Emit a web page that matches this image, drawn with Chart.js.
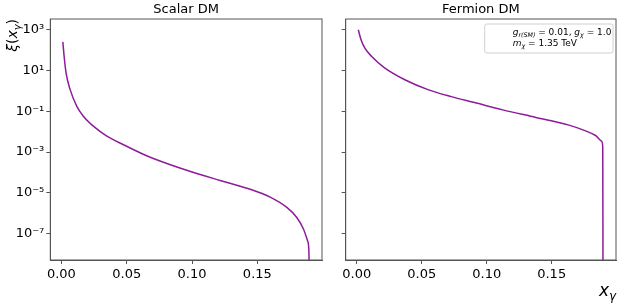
<!DOCTYPE html>
<html>
<head>
<meta charset="utf-8">
<script src="https://cdn.jsdelivr.net/npm/chart.js@4/dist/chart.umd.min.js"></script>
<style>
  body { margin: 0; background: #fff; }
  #wrap { position: relative; width: 623px; height: 304px; }
  canvas { position: absolute; top: 0; }
</style>
</head>
<body>
<div id="wrap">
  <canvas id="left" width="330" height="304" style="left:0"></canvas>
  <canvas id="right" width="293" height="304" style="left:330px"></canvas>
</div>
<script>
// values
const xScalar = [0.0011, 0.0021, 0.0036, 0.0067, 0.0118, 0.0168, 0.0245, 0.0348, 0.0475, 0.0626,
  0.0704, 0.096, 0.1215, 0.1368, 0.1445, 0.1598, 0.1726, 0.1802, 0.1853, 0.1884, 0.1894, 0.1898];
const yScalar = [2.5e2, 4.8e1, 7.4, 1.15, 1.74e-1, 5.75e-2, 1.86e-2, 6.0e-3, 2.3e-3, 7.9e-4,
  4.9e-4, 1.29e-4, 4.1e-5, 2.14e-5, 1.51e-5, 6.2e-6, 1.95e-6, 6.3e-7, 1.7e-7, 4.6e-8, 1.8e-8, 1e-9];

const xFermion = [0.0012, 0.0033, 0.0064, 0.0115, 0.0217, 0.037, 0.0548, 0.0727, 0.0906, 0.1123,
  0.1378, 0.1633, 0.1761, 0.1838, 0.1884, 0.1893, 0.1895];
const yFermion = [9.8e2, 3.2e2, 1.2e2, 4.8e1, 1.3e1, 3.5, 1.15, 5.2e-1, 2.66e-1, 1.17e-1,
  5.0e-2, 2.1e-2, 1.1e-2, 6.5e-3, 3.5e-3, 1.8e-3, 1e-9];

const xTicks = [0, 0.05, 0.1, 0.15];
const xTickLabels = ['0.00', '0.05', '0.10', '0.15'];
const yTicks = [1e-7, 1e-5, 1e-3, 1e-1, 1e1, 1e3];
const yTickLabels = ['10⁻⁷', '10⁻⁵', '10⁻³', '10⁻¹', '10¹', '10³'];

const titles = ['Scalar DM', 'Fermion DM'];
const lineColor = '#8c1c99';
const spineColor = '#555';
const FONT = "'DejaVu Sans', sans-serif";

Chart.defaults.color = '#000';
Chart.defaults.font.family = FONT;
Chart.defaults.font.size = 13;

function pts(xs, ys) {
  return xs.map((x, i) => ({ x: x, y: ys[i] }));
}

// draws text pieces with italic parts and subscripts
function drawRich(ctx, parts, x, y, size, align) {
  const fontFor = (p) => (p.italic ? 'italic ' : '') + (p.sub ? size * 0.7 : size) + 'px ' + FONT;
  let total = 0;
  parts.forEach(p => { ctx.font = fontFor(p); total += ctx.measureText(p.t).width; });
  let cx = align === 'right' ? x - total : (align === 'center' ? x - total / 2 : x);
  ctx.textAlign = 'left';
  ctx.textBaseline = 'alphabetic';
  parts.forEach(p => {
    ctx.font = fontFor(p);
    ctx.fillText(p.t, cx, p.sub ? y + size * 0.25 : y);
    cx += ctx.measureText(p.t).width;
  });
}

const frame = {
  id: 'frame',
  afterDraw(chart, args, opts) {
    const a = chart.chartArea;
    const ctx = chart.ctx;
    ctx.save();
    ctx.strokeStyle = spineColor;
    ctx.lineWidth = 1;
    ctx.strokeRect(a.left, a.top, a.right - a.left, a.bottom - a.top);
    ctx.fillStyle = '#000';
    if (opts.side === 'left') {
      ctx.translate(12, 19);
      ctx.rotate(-Math.PI / 2);
      drawRich(ctx, [
        { t: 'ξ', italic: true }, { t: '(' }, { t: 'x', italic: true },
        { t: 'γ', italic: true, sub: true }, { t: ')' }
      ], 0, 5, 14, 'right');
    } else {
      drawRich(ctx, [{ t: 'x', italic: true }, { t: 'γ', italic: true, sub: true }], a.right, 296, 17, 'right');
      // legend box
      const bx = a.left + 139, by = 24, bw = a.right - 3 - bx, bh = 29;
      ctx.fillStyle = 'rgba(255,255,255,0.8)';
      ctx.strokeStyle = '#d0d0d0';
      ctx.beginPath();
      ctx.roundRect(bx, by, bw, bh, 2);
      ctx.fill();
      ctx.stroke();
      ctx.fillStyle = '#000';
      drawRich(ctx, [
        { t: 'g', italic: true }, { t: 'r(SM)', italic: true, sub: true }, { t: ' = 0.01, ' },
        { t: 'g', italic: true }, { t: 'χ', italic: true, sub: true }, { t: ' = 1.0' }
      ], bx + 28, by + 11, 9, 'left');
      drawRich(ctx, [
        { t: 'm', italic: true }, { t: 'χ', italic: true, sub: true }, { t: ' = 1.35 TeV' }
      ], bx + 28, by + 22, 9, 'left');
    }
    ctx.restore();
  }
};

function makeChart(id, idx, xs, ys, yAxisWidth, rightPad) {
  const showY = idx === 0;
  return new Chart(document.getElementById(id), {
    type: 'line',
    data: {
      datasets: [{
        data: pts(xs, ys),
        borderColor: lineColor,
        borderWidth: 1.5,
        pointRadius: 0,
        cubicInterpolationMode: 'monotone',
        fill: false
      }]
    },
    options: {
      responsive: false,
      animation: false,
      devicePixelRatio: 1,
      layout: { padding: { left: 0, right: rightPad, top: 0, bottom: 0 } },
      plugins: {
        legend: { display: false },
        tooltip: { enabled: false },
        title: {
          display: true,
          text: titles[idx],
          fullSize: false,
          font: { size: 13, weight: 'normal' },
          padding: { top: 2, bottom: 1.4 }
        },
        frame: { side: showY ? 'left' : 'right' }
      },
      scales: {
        x: {
          type: 'linear',
          min: -0.0085,
          max: 0.1995,
          afterBuildTicks: (s) => { s.ticks = xTicks.map(v => ({ value: v })); },
          afterFit: (s) => { s.height = 44; },
          ticks: {
            autoSkip: false,
            maxRotation: 0,
            padding: 3,
            callback: (v) => xTickLabels[xTicks.findIndex(t => Math.abs(t - v) < 1e-9)]
          },
          grid: { drawOnChartArea: false, tickLength: 4, color: spineColor },
          border: { color: spineColor, width: 1 }
        },
        y: {
          type: 'logarithmic',
          min: 5.2e-9,
          max: 3.3e3,
          afterBuildTicks: (s) => { s.ticks = yTicks.map(v => ({ value: v })); },
          afterFit: (s) => { s.width = yAxisWidth; },
          ticks: {
            autoSkip: false,
            padding: 2,
            callback: (v) => showY ? yTickLabels[yTicks.findIndex(t => Math.abs(Math.log10(t) - Math.log10(v)) < 1e-6)] : ''
          },
          grid: { drawOnChartArea: false, tickLength: 4, color: spineColor },
          border: { color: spineColor, width: 1 }
        }
      }
    },
    plugins: [frame]
  });
}

makeChart('left', 0, xScalar, yScalar, 50.3, 8);
makeChart('right', 1, xFermion, yFermion, 15.7, 7);
</script>
</body>
</html>
